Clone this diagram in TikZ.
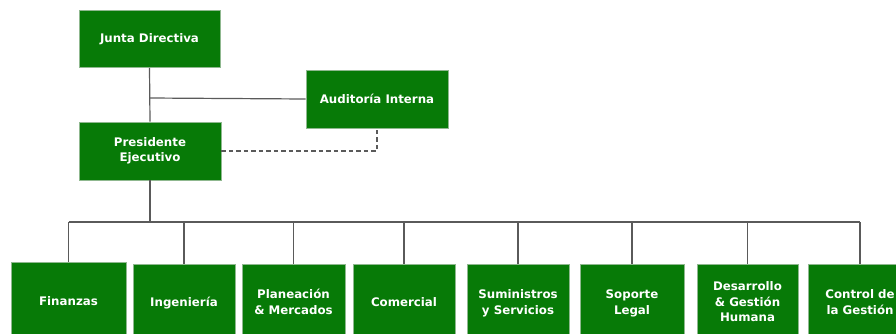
\documentclass[tikz,border=0pt]{standalone}
\usepackage{fontspec}
\setmainfont{DejaVu Sans}
\definecolor{boxgreen}{HTML}{077A07}
\definecolor{boxedge}{HTML}{8FB88F}
\definecolor{linegray}{HTML}{5A5A5A}
\begin{document}
\begin{tikzpicture}[x=1pt,y=-1pt,
  orgbox/.style={draw=boxedge, line width=0.6pt, fill=boxgreen, text=white,
    font=\fontsize{11.8}{15.5}\selectfont\bfseries, align=center, inner sep=0pt},
  topbox/.style={orgbox, minimum width=141pt, minimum height=57pt},
  unitbox/.style={orgbox, minimum height=76pt, text depth=0pt},
  conn/.style={draw=linegray, line width=1.2pt},
  dconn/.style={draw=linegray, line width=1.2pt, dash pattern=on 4.5pt off 3pt}]
\useasboundingbox (0,0) rectangle (896,333);
\clip (0,0) rectangle (896,333);
\node[topbox] (jd) at (149.5,39) {Junta Directiva};
\node[topbox, minimum width=142pt, minimum height=58pt] (ai) at (377,99) {Auditoría Interna};
\node[topbox, minimum width=142pt, minimum height=58pt] (pe) at (150,151) {Presidente\\Ejecutivo};
\coordinate (j1) at (150,98);
\coordinate (bus) at (150,222);
\node[unitbox, minimum width=115pt, minimum height=78pt] (fin) at (68.5,301) {Finanzas};
\node[unitbox, minimum width=102pt] (ing) at (184,302) {Ingeniería};
\node[unitbox, minimum width=103pt] (pla) at (293.5,302) {Planeación\\\& Mercados};
\node[unitbox, minimum width=102pt] (com) at (404,302) {Comercial};
\node[unitbox, minimum width=102pt] (sum) at (518,302) {Suministros\\y Servicios};
\node[unitbox, minimum width=104pt] (sop) at (632,302) {Soporte\\Legal};
\node[unitbox, minimum width=101pt] (des) at (747.5,302) {Desarrollo\\\& Gestión\\Humana};
\node[unitbox, minimum width=104pt] (con) at (860,302) {Control de\\la Gestión};
\draw[conn] (jd.south) -- (pe.north);
\draw[conn] (j1) -- (ai.west);
\draw[dconn] (pe.east) -| (ai.south);
\draw[conn] (pe.south) -- (bus);
\draw[conn] (fin.north |- bus) -- (con.north |- bus);
\foreach \n in {fin,ing,pla,com,sum,sop,des,con}{
  \draw[conn] (\n.north |- bus) -- (\n.north);
}
\end{tikzpicture}
\end{document}
